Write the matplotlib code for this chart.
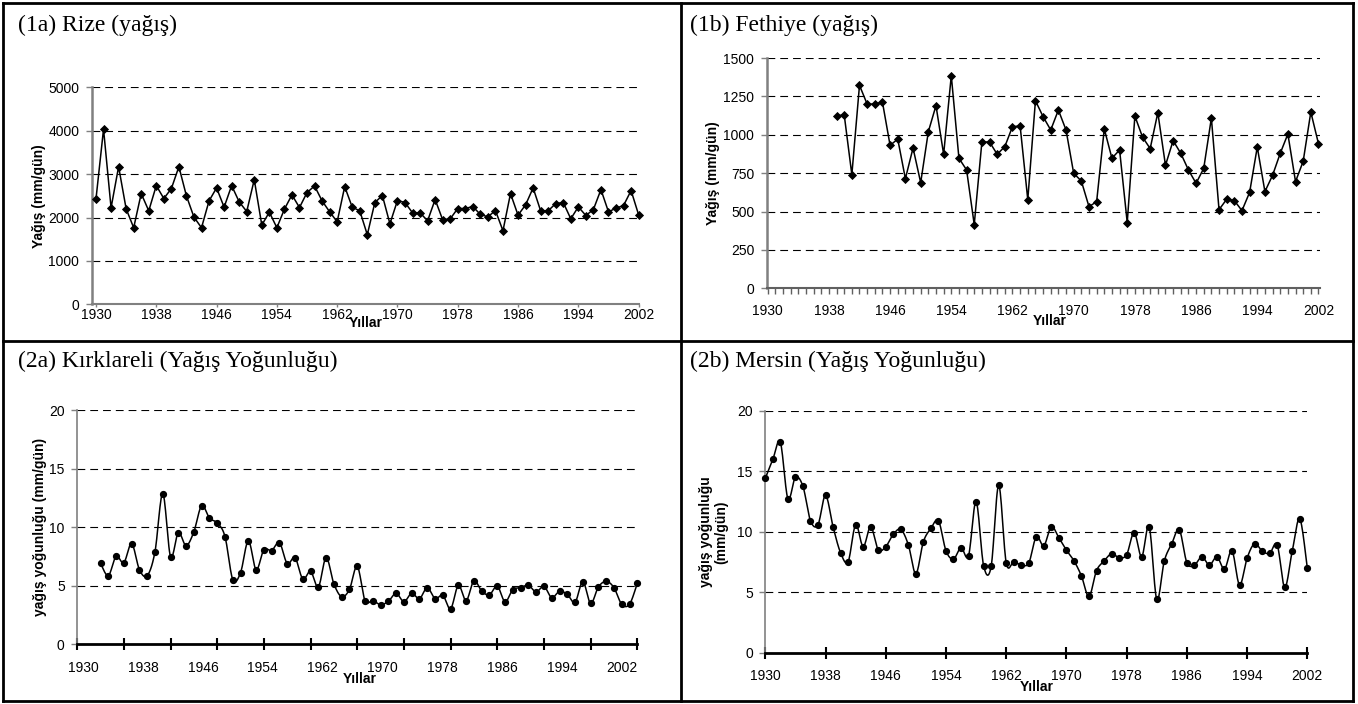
import numpy as np
import matplotlib
matplotlib.use("Agg")
import matplotlib.pyplot as plt
from matplotlib.lines import Line2D

plt.rcParams["lines.scale_dashes"] = False
plt.rcParams["font.family"] = ["Liberation Sans", "DejaVu Sans"]

# ---------------- data ----------------
rize_years = list(range(1930, 2003))
rize_vals = [2429, 4036, 2223, 3171, 2200, 1764, 2552, 2154, 2735, 2437,
             2666, 3171, 2498, 2008, 1764, 2383, 2682, 2238, 2735, 2360,
             2138, 2873, 1825, 2123, 1764, 2192, 2521, 2230, 2575, 2727,
             2383, 2131, 1901, 2712, 2238, 2154, 1603, 2345, 2506, 1855,
             2391, 2345, 2108, 2108, 1924, 2414, 1947, 1970, 2207, 2207,
             2253, 2070, 2016, 2161, 1695, 2552, 2054, 2291, 2682, 2154,
             2154, 2322, 2345, 1970, 2245, 2046, 2184, 2643, 2131, 2215,
             2276, 2621, 2062]

fethiye_years = list(range(1939, 2003))
fethiye_vals = [1122, 1131, 740, 1322, 1200, 1200, 1213, 931, 972, 714,
                914, 688, 1020, 1190, 873, 1385, 847, 771, 415, 953,
                953, 873, 923, 1053, 1057, 577, 1222, 1118, 1031, 1161,
                1031, 749, 699, 532, 564, 1038, 847, 901, 428, 1122,
                985, 910, 1144, 801, 962, 879, 771, 684, 781, 1109,
                512, 580, 571, 506, 625, 920, 630, 736, 879, 1005,
                695, 827, 1148, 942]

kirklareli_years = list(range(1933, 2003))
kirklareli_vals = [6.90, 5.85, 7.50, 6.96, 8.59, 6.36, 5.85, 7.90, 12.87, 7.48,
                   9.53, 8.42, 9.61, 11.84, 10.76, 10.36, 9.19, 5.51, 6.11, 8.84,
                   6.36, 8.07, 8.00, 8.67, 6.88, 7.39, 5.56, 6.22, 4.88, 7.39,
                   5.14, 4.05, 4.68, 6.65, 3.71, 3.71, 3.37, 3.65, 4.34, 3.62,
                   4.34, 3.88, 4.82, 3.88, 4.17, 3.02, 5.02, 3.71, 5.42, 4.51,
                   4.22, 4.96, 3.62, 4.65, 4.82, 5.02, 4.45, 4.94, 3.97, 4.51,
                   4.25, 3.57, 5.34, 3.48, 4.88, 5.36, 4.82, 3.40, 3.40, 5.19]

mersin_years = list(range(1930, 2003))
mersin_vals = [14.41, 15.98, 17.38, 12.73, 14.49, 13.75, 10.91, 10.58, 13.00, 10.41,
               8.26, 7.52, 10.58, 8.76, 10.41, 8.51, 8.76, 9.78, 10.19, 8.92,
               6.53, 9.17, 10.27, 10.91, 8.43, 7.74, 8.68, 8.02, 12.48, 7.19,
               7.13, 13.83, 7.44, 7.49, 7.27, 7.41, 9.59, 8.84, 10.41, 9.50,
               8.48, 7.60, 6.34, 4.65, 6.78, 7.57, 8.18, 7.85, 8.10, 9.92,
               7.93, 10.41, 4.41, 7.57, 9.01, 10.16, 7.44, 7.24, 7.93, 7.24,
               7.93, 6.91, 8.43, 5.59, 7.82, 9.01, 8.40, 8.21, 8.92, 5.40,
               8.40, 11.07, 7.00]

year_labels = [1930, 1938, 1946, 1954, 1962, 1970, 1978, 1986, 1994, 2002]

titles = ["(1a) Rize (yağış)", "(1b) Fethiye (yağış)",
          "(2a) Kırklareli (Yağış Yoğunluğu)", "(2b) Mersin (Yağış Yoğunluğu)"]
ylabels = ["Yağış (mm/gün)", "Yağış (mm/gün)",
           "yağış yoğunluğu (mm/gün)", "yağış yoğunluğu\n(mm/gün)"]
xlabel = "Yıllar"

# ---------------- layout helpers ----------------
W, H = 1358, 704
fig = plt.figure(figsize=(W / 100, H / 100), dpi=100)


def ax_at(x0, y0, x1, y1):
    return fig.add_axes([x0 / W, 1 - y1 / H, (x1 - x0) / W, (y1 - y0) / H])


def ftext(x, y, s, **kw):
    fig.text(x / W, 1 - y / H, s, **kw)


def smooth(x, y, n=14):
    P = np.column_stack([np.asarray(x, float), np.asarray(y, float)])
    out = []
    m = len(P)
    for i in range(m - 1):
        p0 = P[i - 1] if i > 0 else P[i]
        p1, p2 = P[i], P[i + 1]
        p3 = P[i + 2] if i + 2 < m else P[i + 1]
        c1 = p1 + (p2 - p0) / 6.0
        c2 = p2 - (p3 - p1) / 6.0
        t = np.linspace(0, 1, n, endpoint=(i == m - 2))[:, None]
        b = ((1 - t) ** 3) * p1 + 3 * (1 - t) ** 2 * t * c1 + 3 * (1 - t) * t ** 2 * c2 + t ** 3 * p2
        out.append(b)
    B = np.vstack(out)
    return B[:, 0], B[:, 1]


def base_axes(ax, ylim, ystep, spine_col, spine_lw, bottom_col, bottom_lw):
    ax.set_ylim(*ylim)
    ax.set_yticks(np.arange(ylim[0], ylim[1] + ystep / 2, ystep))
    for s in ("top", "right"):
        ax.spines[s].set_visible(False)
    ax.spines["left"].set_color(spine_col)
    ax.spines["left"].set_linewidth(spine_lw)
    ax.spines["bottom"].set_color(bottom_col)
    ax.spines["bottom"].set_linewidth(bottom_lw)
    ax.grid(axis="y", color="black", lw=0.8, linestyle=(0, (5.6, 3.6)))
    ax.set_axisbelow(True)
    ax.tick_params(axis="y", direction="out", length=4, width=1, color=spine_col,
                   labelsize=10, pad=5)
    ax.patch.set_alpha(0)


LINE_LW = 1.1

# ---------------- (1a) Rize ----------------
ax = ax_at(91.7, 87.3, 639, 304.3)
ax.set_xlim(1929.43, 2002.05)
base_axes(ax, (0, 5000), 1000, "#808080", 1.8, "#808080", 1.5)
ax.plot(rize_years, rize_vals, color="black", lw=LINE_LW, marker="D", ms=3.6,
        mfc="black", mec="black", mew=0.6, clip_on=False, zorder=3)
ax.set_xticks(year_labels)
ax.set_xticklabels([str(v) for v in year_labels])
ax.tick_params(axis="x", direction="out", length=2.5, width=1, color="#808080",
               labelsize=10, pad=0.5)

# ---------------- (1b) Fethiye ----------------
ax = ax_at(766.7, 58, 1320, 288.3)
ax.set_xlim(1929.87, 2002.2)
base_axes(ax, (0, 1500), 250, "#808080", 1.8, "#606060", 1.5)
ax.plot(fethiye_years, fethiye_vals, color="black", lw=LINE_LW, marker="D", ms=3.6,
        mfc="black", mec="black", mew=0.6, clip_on=False, zorder=3)
ax.set_xticks(year_labels)
ax.set_xticklabels([str(v) for v in year_labels])
ax.set_xticks(np.arange(1930, 2003), minor=True)
ax.tick_params(axis="x", which="both", direction="out", length=4, width=1,
               color="#606060", labelsize=10, pad=7.5)

# ---------------- (2a) Kırklareli ----------------
ax2a = ax_at(77.2, 410.3, 637.3, 644)
ax2a.set_xlim(1930, 2002)
base_axes(ax2a, (0, 20), 5, "#808080", 1.2, "black", 2.0)
sx_a, sy_a = smooth(kirklareli_years, kirklareli_vals)
ax2a.plot(sx_a, sy_a, color="black", lw=LINE_LW, zorder=3, clip_on=False)
ax2a.plot(kirklareli_years, kirklareli_vals, ls="none", marker="o", ms=4.2,
          mfc="black", mec="black", zorder=4, clip_on=False)
ax2a.set_xticks(np.arange(1930, 2003, 6))
ax2a.set_xticklabels([])
ax2a.tick_params(axis="x", which="major", direction="inout", length=8, width=1.5,
                 color="black")
lab_pos = 1930.8 + (np.array(year_labels) - 1930) * (69.2 / 72)
ax2a.set_xticks(lab_pos, minor=True)
ax2a.set_xticklabels([str(v) for v in year_labels], minor=True)
ax2a.tick_params(axis="x", which="minor", length=0, labelsize=10, pad=12)

# ---------------- (2b) Mersin ----------------
ax = ax_at(765.3, 410.7, 1307.3, 652.7)
ax.set_xlim(1930, 2002)
base_axes(ax, (0, 20), 5, "#808080", 1.2, "black", 2.0)
sx, sy = smooth(mersin_years, mersin_vals)
ax.plot(sx, sy, color="black", lw=LINE_LW, zorder=3, clip_on=False)
ax.plot(mersin_years, mersin_vals, ls="none", marker="o", ms=4.2,
        mfc="black", mec="black", zorder=4, clip_on=False)
ax.set_xticks(year_labels)
ax.set_xticklabels([str(v) for v in year_labels])
ax.tick_params(axis="x", which="major", direction="inout", length=8, width=1.5,
               color="black", labelsize=10, pad=8)

# ---------------- texts ----------------
serif = ["Liberation Serif", "DejaVu Serif"]
TFS = 17
ftext(18, 31, titles[0], family=serif, fontsize=TFS, va="baseline")
ftext(690, 31, titles[1], family=serif, fontsize=TFS, va="baseline")
ftext(18, 367, titles[2], family=serif, fontsize=TFS, va="baseline")
ftext(690, 367, titles[3], family=serif, fontsize=TFS, va="baseline")

ftext(39, 196, ylabels[0], rotation=90, fontsize=10, fontweight="bold",
      ha="center", va="center")
ftext(713, 173, ylabels[1], rotation=90, fontsize=10, fontweight="bold",
      ha="center", va="center")
ftext(40, 527, ylabels[2], rotation=90, fontsize=10, fontweight="bold",
      ha="center", va="center")
ftext(714, 532, ylabels[3], rotation=90, fontsize=10, fontweight="bold",
      ha="center", va="center", multialignment="center", linespacing=1.1)

ftext(366, 323, xlabel, fontsize=10, fontweight="bold", ha="center", va="center")
ftext(1050, 321, xlabel, fontsize=10, fontweight="bold", ha="center", va="center")
ftext(360, 679, xlabel, fontsize=10, fontweight="bold", ha="center", va="center")
ftext(1037, 687, xlabel, fontsize=10, fontweight="bold", ha="center", va="center")

# ---------------- frame ----------------
def fline(x0, y0, x1, y1, lw=2.0):
    fig.add_artist(Line2D([x0 / W, x1 / W], [1 - y0 / H, 1 - y1 / H],
                          transform=fig.transFigure, color="black", lw=lw))

fline(3, 3, 1353, 3)
fline(3, 701, 1353, 701)
fline(3, 3, 3, 701)
fline(1353, 3, 1353, 701)
fline(681, 3, 681, 701)
fline(3, 341, 1353, 341)

fig.savefig("out.png", dpi=100)
